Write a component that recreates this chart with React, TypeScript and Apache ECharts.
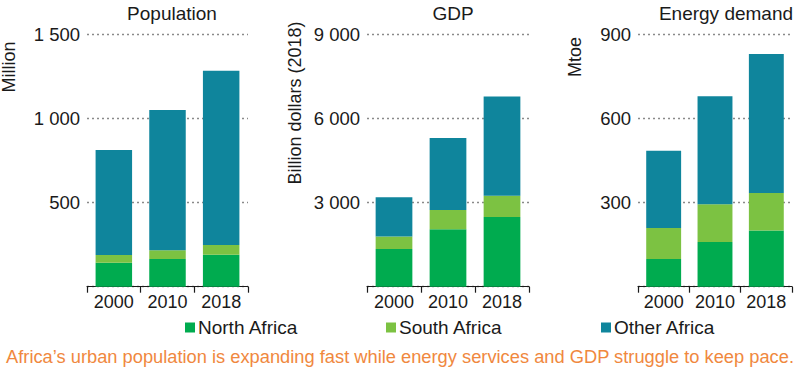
import React, { useEffect, useRef } from "react";
import * as echarts from "echarts";

const categories = ["2000", "2010", "2018"];
const seriesNames = ["North Africa", "South Africa", "Other Africa"];

const popNorth = [143, 165, 190];
const popSouth = [46, 52, 58];
const popOther = [624, 833, 1036];

const gdpNorth = [1346, 2050, 2489];
const gdpSouth = [440, 689, 750];
const gdpOther = [1407, 2561, 3547];

const engNorth = [99, 159, 200];
const engSouth = [110, 135, 134];
const engOther = [276, 385, 496];

const panelTitles = ["Population", "GDP", "Energy demand"];
const axisNames = ["Million", "Billion dollars (2018)", "Mtoe"];
const yMax = [1500, 9000, 900];
const yInterval = [500, 3000, 300];
const caption =
  "Africa\u2019s urban population is expanding fast while energy services and GDP struggle to keep pace.";

const colors = ["#00ab4f", "#7cc242", "#0f859c"];
const FONT = "'Liberation Sans', Arial, Helvetica, sans-serif";

function fmt(v: number): string {
  if (v === 0) return "";
  if (v >= 1000) {
    const th = Math.floor(v / 1000);
    const rest = String(v % 1000).padStart(3, "0");
    return th + " " + rest;
  }
  return String(v);
}

export default function App() {
  const ref = useRef<HTMLDivElement>(null);
  useEffect(() => {
    if (!ref.current) return;
    const chart = echarts.init(ref.current, undefined, { renderer: "svg" });
    const grids = [
      { left: 87, width: 161 },
      { left: 367, width: 162 },
      { left: 638, width: 154 },
    ];
    const panels = [
      [popNorth, popSouth, popOther],
      [gdpNorth, gdpSouth, gdpOther],
      [engNorth, engSouth, engOther],
    ];
    const series: any[] = [];
    panels.forEach((p, gi) => {
      p.forEach((data, si) => {
        series.push({
          type: "bar",
          name: seriesNames[si],
          xAxisIndex: gi,
          yAxisIndex: gi,
          stack: "s" + gi,
          data,
          barWidth: "68%",
          itemStyle: { color: colors[si] },
        });
      });
    });
    const titleX = [167, 448, 721];
    const nameX = [9, 295, 575];
    const nameY = [67, 103, 57];
    const legendLeft = [180, 381, 596];
    chart.setOption({
      animation: false,
      textStyle: { fontFamily: FONT },
      title: panelTitles.map((t, i) => ({
        text: t,
        left: titleX[i],
        top: -1,
        textAlign: "center",
        textStyle: { fontSize: 19, fontWeight: "normal", color: "#1a1a1a", fontFamily: FONT },
      })),
      legend: seriesNames.map((n, i) => ({
        data: [n],
        left: legendLeft[i],
        top: 313,
        icon: "rect",
        itemWidth: 10,
        itemHeight: 10,
        itemGap: 0,
        textStyle: { fontSize: 19, color: "#1a1a1a", fontFamily: FONT, padding: [0, 0, 0, -2] },
      })),
      grid: grids.map((g) => ({ left: g.left, width: g.width, top: 34.3, bottom: 94.3 })),
      xAxis: grids.map((_, i) => ({
        type: "category",
        gridIndex: i,
        data: categories,
        axisLine: { lineStyle: { color: "#1a1a1a", width: 1.2 } },
        axisTick: { show: true, length: 6, inside: false, lineStyle: { color: "#1a1a1a", width: 1.2 } },
        axisLabel: {
          fontSize: 18,
          color: "#1a1a1a",
          margin: 6,
          fontFamily: FONT,
          interval: 0,
          hideOverlap: false,
        },
      })),
      yAxis: grids.map((_, i) => ({
        type: "value",
        gridIndex: i,
        min: 0,
        max: yMax[i],
        interval: yInterval[i],
        axisLine: { show: false },
        axisTick: { show: false },
        axisLabel: { fontSize: 18.5, color: "#1a1a1a", margin: 7, formatter: fmt, fontFamily: FONT },
        splitLine: { lineStyle: { color: "#8a8a8a", type: [2, 3], width: 1.3 } },
      })),
      graphic: [
        ...axisNames.map((n, i) => ({
          type: "text",
          x: nameX[i],
          y: nameY[i],
          rotation: Math.PI / 2,
          style: {
            text: n,
            fontSize: 18,
            fontFamily: FONT,
            fill: "#1a1a1a",
            align: "center",
            verticalAlign: "middle",
          },
        })),
        {
          type: "text",
          x: 400,
          y: 356,
          style: {
            text: caption,
            fontSize: 18.3,
            fontFamily: FONT,
            fill: "#f0883e",
            align: "center",
            verticalAlign: "middle",
          },
        },
      ],
      series,
    });
    return () => chart.dispose();
  }, []);
  return (
    <div
      ref={ref}
      style={{ position: "absolute", left: 0, top: 0, width: 800, height: 381, background: "#fff" }}
    />
  );
}
